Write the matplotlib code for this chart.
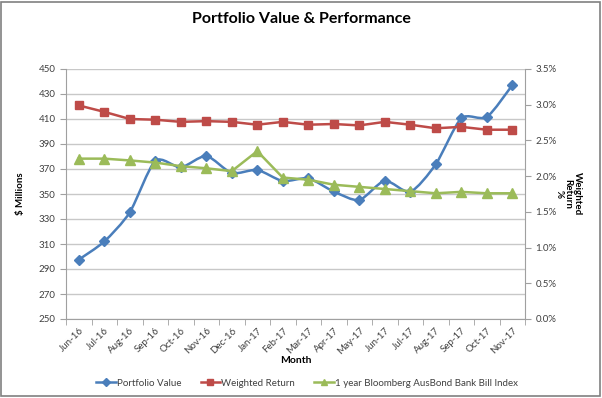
import matplotlib
matplotlib.use("Agg")
import matplotlib.pyplot as plt
import numpy as np
from matplotlib.path import Path
from matplotlib.patches import PathPatch, Rectangle
from matplotlib.lines import Line2D
from matplotlib.ticker import FuncFormatter, FixedLocator

months = ["Jun-16", "Jul-16", "Aug-16", "Sep-16", "Oct-16", "Nov-16", "Dec-16",
          "Jan-17", "Feb-17", "Mar-17", "Apr-17", "May-17", "Jun-17", "Jul-17",
          "Aug-17", "Sep-17", "Oct-17", "Nov-17"]
portfolio_value = [297.5, 312, 335.3, 376.5, 371.3, 380.4, 366.8, 369.2, 360.4,
                   362.5, 352.0, 345.2, 360.6, 351.8, 373.8, 410.5, 411.6, 437.0]
weighted_return = [2.99, 2.90, 2.80, 2.79, 2.76, 2.77, 2.76, 2.72, 2.76,
                   2.72, 2.73, 2.71, 2.76, 2.72, 2.67, 2.69, 2.65, 2.65]
bloomberg_index = [2.245, 2.245, 2.22, 2.19, 2.14, 2.11, 2.07, 2.35, 1.98,
                   1.95, 1.88, 1.85, 1.82, 1.79, 1.76, 1.78, 1.76, 1.76]
left_ticks = list(range(250, 451, 20))
right_ticks = [0.0, 0.5, 1.0, 1.5, 2.0, 2.5, 3.0, 3.5]

plt.rcParams['font.family'] = ['Lato', 'DejaVu Sans']

BLUE = "#4A7EBB"
RED = "#BE4B48"
GREEN = "#9BBB59"
TXT = "#404040"
FS = 7

fig = plt.figure(figsize=(6.02, 3.98), dpi=100)
ax = fig.add_axes([66/602, 1-319/398, (525-66)/602, (319-69)/398])
ax2 = ax.twinx()

x = np.arange(len(months))

# smoothed curve through the portfolio values (cubic Bezier segments)
pts = np.column_stack([x, portfolio_value]).astype(float)
verts = [tuple(pts[0])]
codes = [Path.MOVETO]
k = 1.0 / 8.0
for i in range(len(pts)-1):
    p0 = pts[i-1] if i > 0 else pts[i]
    p1 = pts[i]
    p2 = pts[i+1]
    p3 = pts[i+2] if i+2 < len(pts) else pts[i+1]
    c1 = p1 + (p2 - p0) * k
    c2 = p2 - (p3 - p1) * k
    verts += [tuple(c1), tuple(c2), tuple(p2)]
    codes += [Path.CURVE4]*3
ax.add_patch(PathPatch(Path(verts, codes), fill=False, edgecolor=BLUE, lw=1.8, zorder=3))
ax.plot(x, portfolio_value, ls='none', marker='D', ms=5, color=BLUE, zorder=4)

ax2.plot(x, weighted_return, color=RED, lw=1.8, marker='s', ms=5.5, zorder=3)
ax2.plot(x, bloomberg_index, color=GREEN, lw=1.8, marker='^', ms=6.5, zorder=3)

ax.set_xlim(-0.5, len(months)-0.5)
ax.set_ylim(250, 450)
ax2.set_ylim(0, 3.5)
ax.set_yticks(left_ticks)
ax2.set_yticks(right_ticks)
ax2.yaxis.set_major_formatter(FuncFormatter(lambda v, p: f"{v:.1f}%"))

ax.set_xticks(x)
ax.set_xticklabels(months, rotation=45, ha='right', rotation_mode='anchor',
                   fontsize=FS, color=TXT)
ax.xaxis.set_minor_locator(FixedLocator(np.arange(-0.5, len(months), 1.0)))
ax.tick_params(axis='x', which='major', length=0, pad=5)
ax.tick_params(axis='x', which='minor', length=4, color='#A0A0A0', direction='out')
ax.tick_params(axis='y', labelsize=FS, labelcolor=TXT, length=4, color='#A0A0A0')
ax2.tick_params(axis='y', labelsize=FS, labelcolor=TXT, length=4, color='#A0A0A0')

ax.grid(axis='y', color='#C8C8C8', lw=1.0)
ax.set_axisbelow(True)
for a in (ax, ax2):
    a.spines['top'].set_visible(False)
    for s in ('left', 'right', 'bottom'):
        a.spines[s].set_color('#A0A0A0')
ax.spines['right'].set_visible(False)
ax2.spines['left'].set_visible(False)
ax2.spines['bottom'].set_visible(False)

ax.set_ylabel("$ Millions", fontsize=FS, fontweight='bold', labelpad=10)
ax2.set_ylabel("Weighted\nReturn\n%", fontsize=FS, fontweight='bold',
               rotation=270, labelpad=18, linespacing=1.0)
ax.set_xlabel("Month", fontsize=7.5, fontweight='bold', labelpad=0)

fig.suptitle("Portfolio Value & Performance", fontsize=11.5, fontweight='bold', y=0.97)

handles = [Line2D([], [], color=BLUE, lw=1.8, marker='D', ms=4),
           Line2D([], [], color=RED, lw=1.8, marker='s', ms=4.5),
           Line2D([], [], color=GREEN, lw=1.8, marker='^', ms=5)]
fig.legend(handles, ["Portfolio Value", "Weighted Return", "1 year Bloomberg AusBond Bank Bill Index"],
           loc='center', bbox_to_anchor=(0.51, 1-383/398), ncol=3, frameon=False,
           fontsize=FS, handlelength=2.0, handletextpad=0.1, columnspacing=2.0,
           labelcolor=TXT)

fig.patches.append(Rectangle((0.002, 0.004), 0.995, 0.992, transform=fig.transFigure,
                             fill=False, edgecolor='#808080', lw=1.2))

fig.savefig("out.png", dpi=100)
